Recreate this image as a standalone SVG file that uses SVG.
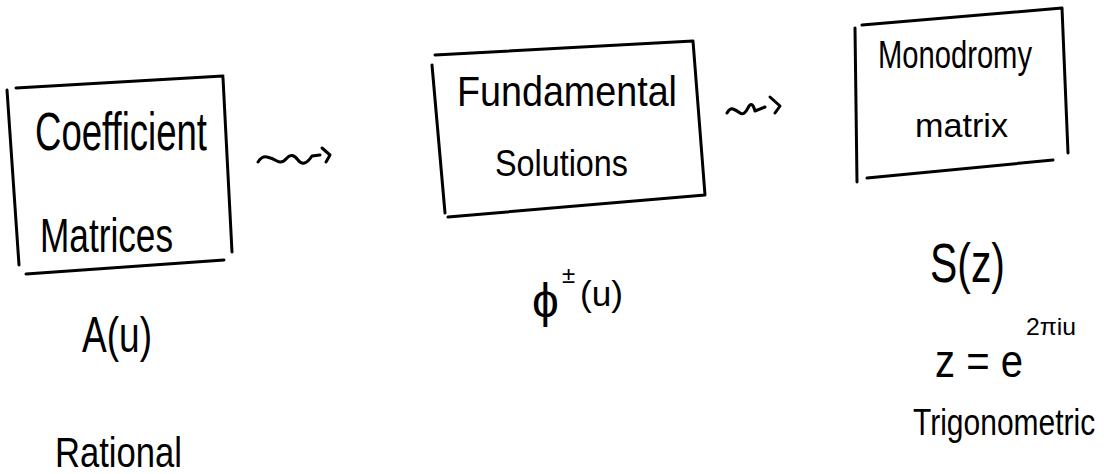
<svg xmlns="http://www.w3.org/2000/svg" width="1111" height="474" viewBox="0 0 1111 474">
<style>
.box{fill:none;stroke:#000;stroke-width:3;stroke-linecap:round;stroke-linejoin:round}
.arr{fill:none;stroke:#000;stroke-width:3;stroke-linecap:round;stroke-linejoin:round}
text{font-family:"Liberation Sans","DejaVu Sans",sans-serif;fill:#000}
</style>
<rect width="1111" height="474" fill="#fff"/>
<g id="node-coefficient">
<path class="box" d="M7,90 L19,265 M16,88 L223,76 M223,78 L232,252 M26,274 L224,260"/>
<text x="35" y="150" font-size="54" textLength="172" lengthAdjust="spacingAndGlyphs">Coefficient</text>
<text x="40" y="252" font-size="48" textLength="133" lengthAdjust="spacingAndGlyphs">Matrices</text>
</g>
<g id="node-fundamental">
<path class="box" d="M435,55 L693,41 L705,195 M705,195 L448,217 M432,65 L445,213"/>
<text x="457" y="106" font-size="42" textLength="220" lengthAdjust="spacingAndGlyphs">Fundamental</text>
<text x="495" y="176" font-size="36" textLength="133" lengthAdjust="spacingAndGlyphs">Solutions</text>
</g>
<g id="node-monodromy">
<path class="box" d="M855,28 L857,182 M862,25 L1062,8 L1068,153 M867,178 L1053,160"/>
<text x="878" y="68" font-size="38" textLength="154" lengthAdjust="spacingAndGlyphs">Monodromy</text>
<text x="915" y="137" font-size="34" textLength="93" lengthAdjust="spacingAndGlyphs">matrix</text>
</g>
<g id="labels">
<text x="82" y="352" font-size="50" textLength="70" lengthAdjust="spacingAndGlyphs">A(u)</text>
<text x="55" y="467" font-size="42" textLength="127" lengthAdjust="spacingAndGlyphs">Rational</text>
<text x="532" y="317" font-size="48">ϕ</text>
<text x="562" y="283" font-size="24">±</text>
<text x="580" y="306" font-size="35" textLength="43" lengthAdjust="spacingAndGlyphs">(u)</text>
<text x="930" y="282" font-size="56" textLength="75" lengthAdjust="spacingAndGlyphs">S(z)</text>
<text x="935" y="377" font-size="46" textLength="88" lengthAdjust="spacingAndGlyphs">z = e</text>
<text x="1026" y="335" font-size="24" textLength="50" lengthAdjust="spacingAndGlyphs">2πiu</text>
<text transform="translate(913,435) scale(1,1.2)" font-size="30">Trigonometric</text>
</g>
<g id="connectors">
<path class="arr" d="M258,162 Q262,156 267,157 T277,161 T287,158 T298,160 T312,156 L320,155"/>
<path class="arr" d="M322,148 L330,155 L326,162"/>
<path class="arr" d="M727,113 Q730,108 733,109 T740,113 T748,108 T755,111 L765,107"/>
<path class="arr" d="M770,97 L780,106 L775,113"/>
</g>
</svg>
